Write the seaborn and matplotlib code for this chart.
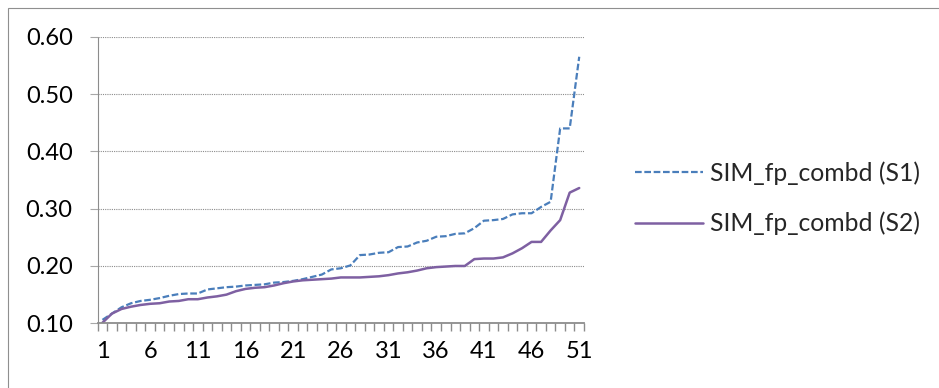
import matplotlib
matplotlib.use("Agg")
import matplotlib.pyplot as plt
from matplotlib.lines import Line2D
from matplotlib.patches import Rectangle
from matplotlib.ticker import FixedLocator, NullFormatter
import pandas as pd
import seaborn as sns

# ---- data -------------------------------------------------------------
categories = list(range(1, 52))

s1_values = [0.106, 0.117, 0.128, 0.135, 0.139, 0.141, 0.144, 0.148, 0.151, 0.152,
             0.152, 0.159, 0.161, 0.163, 0.164, 0.166, 0.167, 0.168, 0.171, 0.172,
             0.174, 0.177, 0.181, 0.185, 0.194, 0.196, 0.201, 0.219, 0.220, 0.223,
             0.224, 0.233, 0.234, 0.241, 0.244, 0.251, 0.252, 0.256, 0.257, 0.266,
             0.279, 0.280, 0.282, 0.290, 0.292, 0.292, 0.303, 0.312, 0.440, 0.440,
             0.565]

s2_values = [0.101, 0.117, 0.125, 0.129, 0.132, 0.134, 0.135, 0.138, 0.139, 0.142,
             0.142, 0.145, 0.147, 0.150, 0.156, 0.160, 0.162, 0.163, 0.166, 0.170,
             0.173, 0.175, 0.176, 0.177, 0.178, 0.180, 0.180, 0.180, 0.181, 0.182,
             0.184, 0.187, 0.189, 0.192, 0.196, 0.198, 0.199, 0.200, 0.200, 0.212,
             0.213, 0.213, 0.215, 0.222, 0.231, 0.242, 0.242, 0.262, 0.280, 0.328,
             0.336]

series_names = ["SIM_fp_combd (S1)", "SIM_fp_combd (S2)"]
y_ticks = [0.10, 0.20, 0.30, 0.40, 0.50, 0.60]
x_tick_labels = [1, 6, 11, 16, 21, 26, 31, 36, 41, 46, 51]

# ---- style ------------------------------------------------------------
sns.set_style("white")
plt.rcParams["font.family"] = ["Lato", "DejaVu Sans"]
TICK_FS = 17
LEGEND_FS = 17.8
GRID = "#8c8c8c"
DASH = (3.0, 1.2)

df = pd.concat([
    pd.DataFrame({"category": categories, "value": s1_values, "series": series_names[0]}),
    pd.DataFrame({"category": categories, "value": s2_values, "series": series_names[1]}),
])

W, H = 939, 388
fig = plt.figure(figsize=(W / 100, H / 100), dpi=100)
left_px, right_px, top_px, bottom_px = 97.7, 584.0, 36.7, 323.3
ax = fig.add_axes([left_px / W, 1 - bottom_px / H,
                   (right_px - left_px) / W, (bottom_px - top_px) / H])

palette = {series_names[0]: "#4A7EBB", series_names[1]: "#7E60A2"}
dashes = {series_names[0]: DASH, series_names[1]: ""}
sns.lineplot(data=df, x="category", y="value", hue="series", style="series",
             palette=palette, dashes=dashes, hue_order=series_names,
             style_order=series_names, ax=ax, legend=False, linewidth=1.7)
ax.lines[0].set_linewidth(1.6)
ax.lines[1].set_linewidth(1.8)

# ---- axes -------------------------------------------------------------
ax.set_xlim(0.5, 51.5)
ax.set_ylim(0.10, 0.60)
ax.set_xlabel("")
ax.set_ylabel("")

ax.set_yticks(y_ticks)
ax.set_yticklabels([f"{v:.2f}" for v in y_ticks], fontsize=TICK_FS, color="black")
ax.yaxis.grid(True, color=GRID, linestyle=(0, (1, 1)), linewidth=0.8)
ax.set_axisbelow(True)
ax.tick_params(axis="y", which="major", direction="out", length=6, width=0.8,
               color="#a8a8a8", pad=12, left=True)

ax.xaxis.set_major_locator(FixedLocator(x_tick_labels))
ax.set_xticklabels([str(v) for v in x_tick_labels], fontsize=TICK_FS, color="black")
ax.xaxis.set_minor_locator(FixedLocator([c - 0.5 for c in categories] + [51.5]))
ax.xaxis.set_minor_formatter(NullFormatter())
ax.tick_params(axis="x", which="major", length=0, pad=13, bottom=True)
ax.tick_params(axis="x", which="minor", direction="out", length=6, width=1.0,
               color=GRID, bottom=True)

for side in ("top", "right"):
    ax.spines[side].set_visible(False)
ax.spines["left"].set_color(GRID)
ax.spines["left"].set_linestyle((0, (1, 1)))
ax.spines["left"].set_linewidth(0.8)
ax.spines["bottom"].set_color(GRID)
ax.spines["bottom"].set_linewidth(1.3)

# ---- legend -----------------------------------------------------------
handles = [
    Line2D([], [], color=palette[series_names[0]],
           linewidth=ax.lines[0].get_linewidth(), linestyle=(0, DASH)),
    Line2D([], [], color=palette[series_names[1]],
           linewidth=ax.lines[1].get_linewidth(), linestyle="-"),
]
fig.legend(handles, series_names, loc="center left",
           bbox_to_anchor=(635 / W, 1 - 198.3 / H), frameon=False,
           fontsize=LEGEND_FS, handlelength=2.75, handletextpad=0.3,
           labelspacing=1.1, borderpad=0, borderaxespad=0)

# ---- chart frame ------------------------------------------------------
fig.add_artist(Rectangle((7.5 / W, -0.2), 1.5, 1 - 8.3 / H + 0.2,
                         transform=fig.transFigure, fill=False,
                         edgecolor="#8f8f8f", linewidth=0.8, clip_on=False))

fig.savefig("out.png", dpi=100)
